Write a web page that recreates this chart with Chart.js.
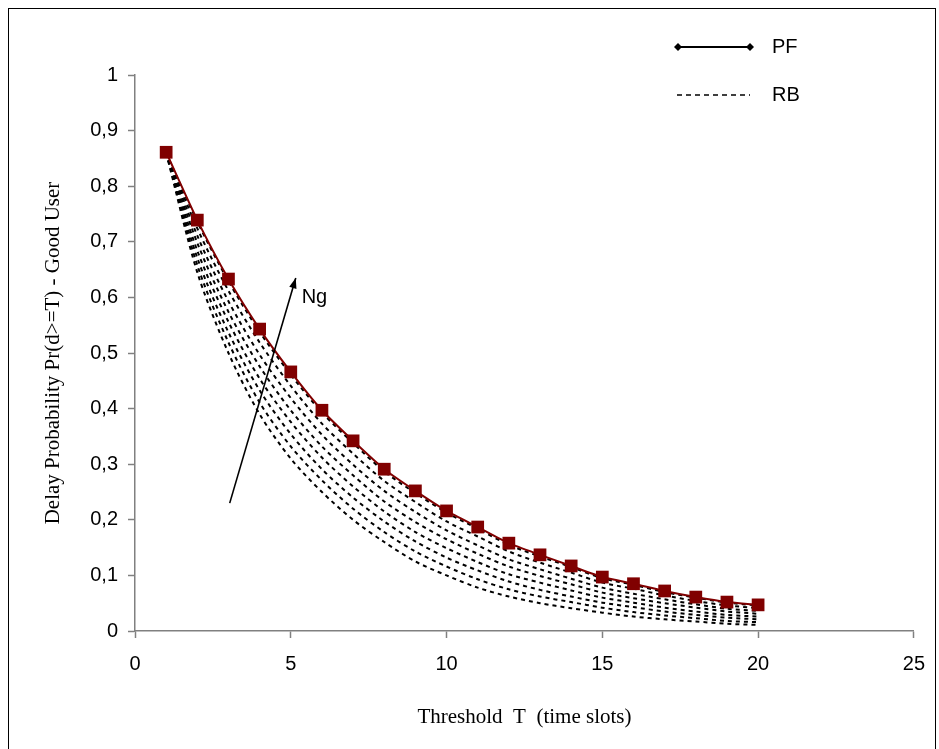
<!DOCTYPE html>
<html>
<head>
<meta charset="utf-8">
<script src="https://cdn.jsdelivr.net/npm/chart.js@4.4.1/dist/chart.umd.min.js"></script>
<style>
  html, body { margin: 0; padding: 0; background: #fff; overflow: hidden; }
  #wrap { position: relative; width: 939px; height: 749px; }
  #frame { position: absolute; left: 8px; top: 8px; width: 928px; height: 760px; border: 1px solid #000; box-sizing: border-box; pointer-events: none; }
</style>
</head>
<body>
<div id="wrap">
  <canvas id="chart" width="939" height="749"></canvas>
  <div id="frame"></div>
</div>
<script>
// threshold T (time slots)
const thresholds = [1, 2, 3, 4, 5, 6, 7, 8, 9, 10, 11, 12, 13, 14, 15, 16, 17, 18, 19, 20];

// PF curve
const pf = [0.861, 0.739, 0.633, 0.543, 0.466, 0.397, 0.342, 0.291, 0.252, 0.216,
            0.187, 0.158, 0.137, 0.117, 0.097, 0.085, 0.072, 0.061, 0.052, 0.047];

// RB curves, one per Ng value (lowest first)
const rb1 = [0.86, 0.645, 0.500, 0.390, 0.310, 0.250, 0.200, 0.160, 0.125, 0.100,
             0.078, 0.062, 0.050, 0.041, 0.033, 0.026, 0.021, 0.017, 0.013, 0.011];
const rb2 = [0.86, 0.658, 0.519, 0.411, 0.332, 0.271, 0.220, 0.178, 0.143, 0.116,
             0.093, 0.075, 0.062, 0.052, 0.042, 0.034, 0.028, 0.023, 0.018, 0.016];
const rb3 = [0.86, 0.671, 0.537, 0.433, 0.354, 0.291, 0.240, 0.197, 0.161, 0.132,
             0.109, 0.089, 0.074, 0.062, 0.051, 0.043, 0.035, 0.029, 0.024, 0.021];
const rb4 = [0.86, 0.684, 0.556, 0.454, 0.376, 0.312, 0.260, 0.215, 0.178, 0.149,
             0.124, 0.102, 0.087, 0.073, 0.060, 0.051, 0.042, 0.035, 0.029, 0.026];
const rb5 = [0.86, 0.698, 0.574, 0.476, 0.397, 0.332, 0.280, 0.233, 0.196, 0.165,
             0.139, 0.116, 0.099, 0.084, 0.069, 0.059, 0.050, 0.042, 0.035, 0.031];
const rb6 = [0.86, 0.711, 0.593, 0.497, 0.419, 0.353, 0.299, 0.252, 0.214, 0.181,
             0.154, 0.129, 0.111, 0.094, 0.078, 0.067, 0.057, 0.048, 0.040, 0.036];
const rb7 = [0.86, 0.724, 0.612, 0.519, 0.441, 0.373, 0.319, 0.270, 0.232, 0.197,
             0.170, 0.143, 0.123, 0.105, 0.087, 0.076, 0.064, 0.054, 0.046, 0.041];
const rb8 = [0.86, 0.736, 0.629, 0.538, 0.461, 0.393, 0.338, 0.287, 0.248, 0.213,
             0.184, 0.155, 0.134, 0.115, 0.095, 0.083, 0.070, 0.060, 0.051, 0.046];
const rbCurves = [rb1, rb2, rb3, rb4, rb5, rb6, rb7, rb8];

// tick labels (decimal comma)
const yTickLabels = ['0', '0,1', '0,2', '0,3', '0,4', '0,5', '0,6', '0,7', '0,8', '0,9', '1'];
const xTickLabels = ['0', '5', '10', '15', '20', '25'];

// "Ng" arrow, in data units
const arrowFrom = { x: 3.04, y: 0.23 };
const arrowTo = { x: 5.16, y: 0.635 };
const arrowLabel = { x: 5.35, y: 0.60, text: 'Ng' };

const sansFont = "'Liberation Sans', Arial, sans-serif";
const serifFont = "'Liberation Serif', 'Times New Roman', serif";

const toPoints = ys => ys.map((y, i) => ({ x: thresholds[i], y }));

const rbDatasets = rbCurves.map((ys, i) => ({
  label: i === 0 ? 'RB' : 'RB ' + (i + 1),
  data: toPoints(ys),
  borderColor: '#000',
  borderWidth: 2,
  borderDash: [4, 4],
  pointRadius: 0,
  tension: 0.3,
  fill: false,
  order: 2
}));

const extras = {
  id: 'extras',
  afterDatasetsDraw(chart) {
    const { ctx, scales: { x, y } } = chart;
    ctx.save();

    // arrow
    const x0 = x.getPixelForValue(arrowFrom.x), y0 = y.getPixelForValue(arrowFrom.y);
    const x1 = x.getPixelForValue(arrowTo.x), y1 = y.getPixelForValue(arrowTo.y);
    ctx.strokeStyle = '#000';
    ctx.fillStyle = '#000';
    ctx.lineWidth = 1.6;
    ctx.beginPath();
    ctx.moveTo(x0, y0);
    ctx.lineTo(x1, y1);
    ctx.stroke();
    const ang = Math.atan2(y1 - y0, x1 - x0);
    ctx.beginPath();
    ctx.moveTo(x1, y1);
    ctx.lineTo(x1 - 11 * Math.cos(ang - 0.35), y1 - 11 * Math.sin(ang - 0.35));
    ctx.lineTo(x1 - 11 * Math.cos(ang + 0.35), y1 - 11 * Math.sin(ang + 0.35));
    ctx.closePath();
    ctx.fill();

    ctx.font = '20px ' + sansFont;
    ctx.textBaseline = 'middle';
    ctx.textAlign = 'left';
    ctx.fillText(arrowLabel.text, x.getPixelForValue(arrowLabel.x), y.getPixelForValue(arrowLabel.y));

    // legend
    ctx.lineWidth = 2;
    ctx.setLineDash([]);
    ctx.beginPath();
    ctx.moveTo(678, 47);
    ctx.lineTo(750, 47);
    ctx.stroke();
    [678, 750].forEach(px => {
      ctx.beginPath();
      ctx.moveTo(px, 43); ctx.lineTo(px + 4, 47); ctx.lineTo(px, 51); ctx.lineTo(px - 4, 47);
      ctx.closePath();
      ctx.fill();
    });
    ctx.lineWidth = 1.6;
    ctx.setLineDash([5, 4]);
    ctx.beginPath();
    ctx.moveTo(677, 95);
    ctx.lineTo(750, 95);
    ctx.stroke();
    ctx.setLineDash([]);
    ctx.fillText('PF', 772, 47);
    ctx.fillText('RB', 772, 95);
    ctx.restore();
  }
};

new Chart(document.getElementById('chart').getContext('2d'), {
  type: 'line',
  data: {
    datasets: [
      {
        label: 'PF',
        data: toPoints(pf),
        borderColor: '#800000',
        backgroundColor: '#800000',
        borderWidth: 2,
        pointStyle: 'rect',
        pointRadius: 9,
        pointBorderWidth: 0,
        pointBackgroundColor: '#800000',
        tension: 0.2,
        fill: false,
        order: 1
      },
      ...rbDatasets
    ]
  },
  options: {
    responsive: false,
    animation: false,
    layout: { padding: { left: 0, top: 75, right: 24, bottom: 0 } },
    plugins: { legend: { display: false }, tooltip: { enabled: false } },
    scales: {
      x: {
        type: 'linear',
        min: 0,
        max: 25,
        afterFit: s => { s.height = 118; },
        afterBuildTicks: s => { s.ticks = xTickLabels.map(v => ({ value: Number(v) })); },
        ticks: {
          callback: (v, i) => xTickLabels[i],
          color: '#000',
          font: { family: sansFont, size: 20 },
          padding: 14,
          maxRotation: 0
        },
        grid: { drawOnChartArea: false, color: '#808080', tickLength: 7, tickWidth: 1.5 },
        border: { color: '#808080', width: 1.5 },
        title: {
          display: true,
          text: 'Threshold  T  (time slots)',
          color: '#000',
          font: { family: serifFont, size: 21 },
          padding: { bottom: 19 }
        }
      },
      y: {
        min: 0,
        max: 1,
        afterFit: s => { s.width = 135; },
        afterBuildTicks: s => { s.ticks = yTickLabels.map((t, i) => ({ value: i / 10 })); },
        ticks: {
          callback: (v, i) => yTickLabels[i],
          color: '#000',
          font: { family: sansFont, size: 20 },
          padding: 10
        },
        grid: { drawOnChartArea: false, color: '#808080', tickLength: 7, tickWidth: 1.5 },
        border: { color: '#808080', width: 1.5 },
        title: {
          display: true,
          text: 'Delay Probability Pr(d>=T) - Good User',
          color: '#000',
          font: { family: serifFont, size: 21 },
          padding: { top: 41 }
        }
      }
    }
  },
  plugins: [extras]
});
</script>
</body>
</html>
